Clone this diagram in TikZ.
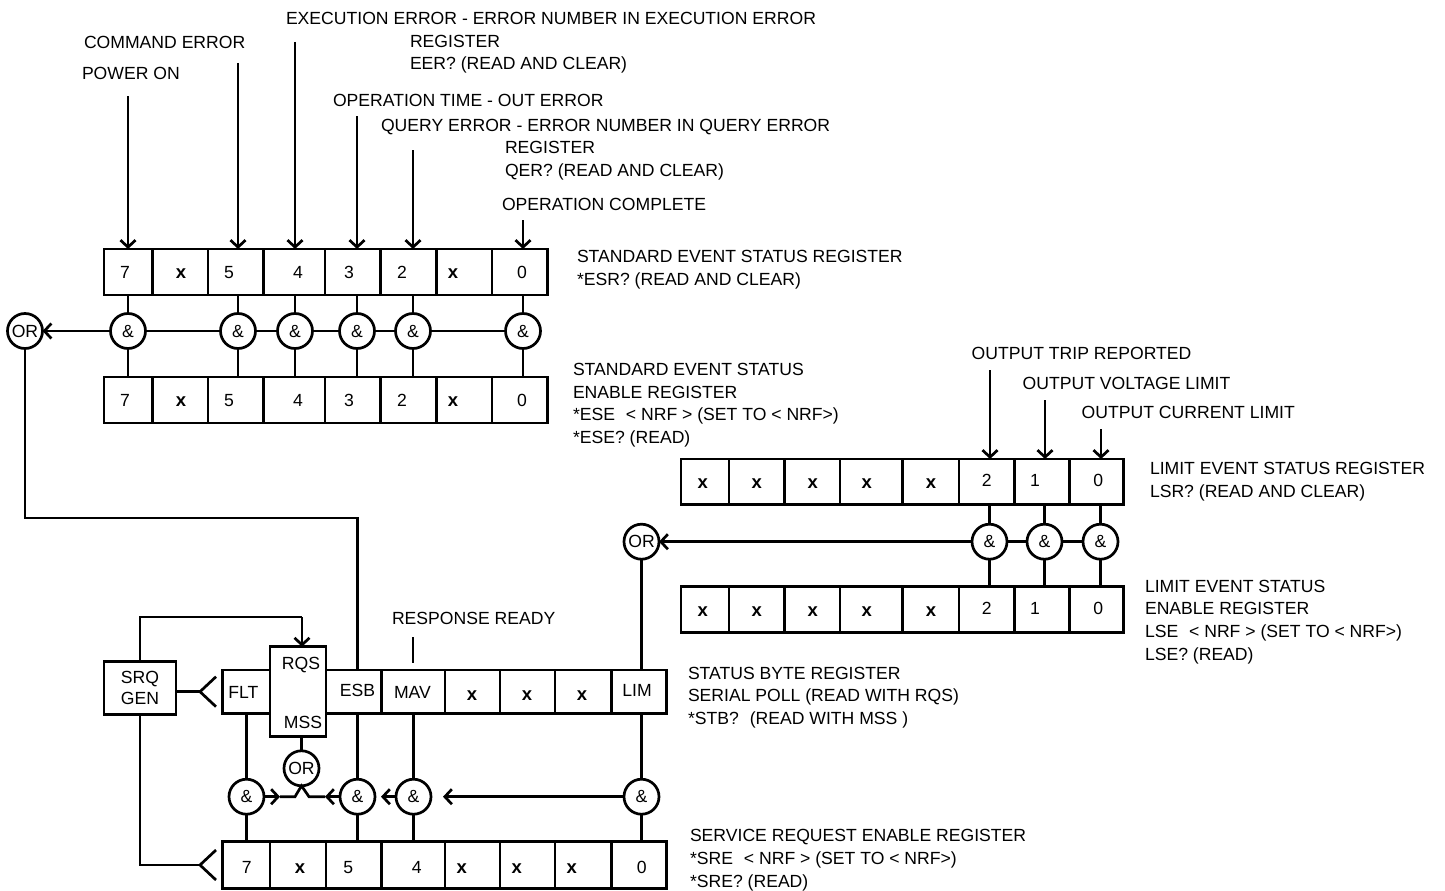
\documentclass[tikz,border=0pt]{standalone}
\usepackage{fontspec}
\setmainfont{Liberation Sans}
\usetikzlibrary{arrows.meta}
\newcommand\rc[6][]{\node[cellst,#1, minimum width={(#4-#3)*1pt}, minimum height={(#6-#5)*1pt}] (#2) at ({(#3+#4)/2},{(#5+#6)/2}) {};}
\begin{document}
\begin{tikzpicture}[x=1pt,y=-1pt, line width=2.7pt,
  every node/.style={font=\fontsize{17.6}{21}\selectfont},
  cellst/.style={draw, rectangle, inner sep=0pt, outer sep=0pt},
  gate/.style={draw, circle, minimum size=35pt, inner sep=0pt, outer sep=0pt},
  lbl/.style={anchor=base west, inner sep=0pt, outer sep=0pt},
  ct/.style={anchor=base, inner sep=0pt, outer sep=0pt},
  xb/.style={anchor=base, inner sep=0pt, outer sep=0pt, font=\fontsize{18.5}{21}\selectfont\bfseries},
  arr/.style={-{Straight Barb[length=7pt,width=15pt]}}]
\useasboundingbox (0,0) rectangle (1445,891);

% ---------- top labels ----------
\node[lbl] (l1) at (286,24.4) {EXECUTION ERROR - ERROR NUMBER IN EXECUTION ERROR};
\node[lbl] (l2) at (410,47.4) {REGISTER};
\node[lbl] (l3) at (410,69.4) {EER? (READ AND CLEAR)};
\node[lbl] (l4) at (84,48.4) {COMMAND ERROR};
\node[lbl] (l5) at (82,79.4) {POWER ON};
\node[lbl] (l6) at (333,106.4) {OPERATION TIME - OUT ERROR};
\node[lbl] (l7) at (381,131.4) {QUERY ERROR - ERROR NUMBER IN QUERY ERROR};
\node[lbl] (l8) at (505,153.4) {REGISTER};
\node[lbl] (l9) at (505,176.4) {QER? (READ AND CLEAR)};
\node[lbl] (l10) at (502,210.4) {OPERATION COMPLETE};
\node[lbl] (l11) at (577,262.4) {STANDARD EVENT STATUS REGISTER};
\node[lbl] (l12) at (577,285.4) {*ESR? (READ AND CLEAR)};
\node[lbl] (l13) at (573,375.4) {STANDARD EVENT STATUS};
\node[lbl] (l14) at (573,398.4) {ENABLE REGISTER};
\node[lbl] (l15) at (573,420.4) {*ESE\hspace{6pt} < NRF > (SET TO < NRF>)};
\node[lbl] (l16) at (573,443.4) {*ESE? (READ)};

% ---------- ESR / ESE registers ----------
\rc{e7}{104}{152.5}{249}{295}
\rc{ex6}{152.5}{208}{249}{295}
\rc{e5}{208}{263.3}{249}{295}
\rc{e4}{263.3}{325}{249}{295}
\rc{e3}{325}{380.7}{249}{295}
\rc{e2}{380.7}{436.7}{249}{295}
\rc{ex1}{436.7}{492}{249}{295}
\rc{e0}{492}{547.5}{249}{295}
\rc{n7}{104}{152.5}{377}{423}
\rc{nx6}{152.5}{208}{377}{423}
\rc{n5}{208}{263.3}{377}{423}
\rc{n4}{263.3}{325}{377}{423}
\rc{n3}{325}{380.7}{377}{423}
\rc{n2}{380.7}{436.7}{377}{423}
\rc{nx1}{436.7}{492}{377}{423}
\rc{n0}{492}{547.5}{377}{423}
\foreach \r/\y in {t/278.4, u/406.4} {
  \node[ct] (\r a) at (125,\y) {7};
  \node[xb] (\r b) at (181,\y) {x};
  \node[ct] (\r c) at (229,\y) {5};
  \node[ct] (\r d) at (298,\y) {4};
  \node[ct] (\r e) at (349,\y) {3};
  \node[ct] (\r f) at (402,\y) {2};
  \node[xb] (\r g) at (453,\y) {x};
  \node[ct] (\r h) at (522,\y) {0};
}

% input arrows
\coordinate (p7) at (128,96);
\coordinate (p5) at (238,63);
\coordinate (p4) at (295,42);
\coordinate (p3) at (357,116);
\coordinate (p2) at (413,150);
\coordinate (p0) at (523,220);
\draw[arr] (p7) -- (p7 |- e7.north);
\draw[arr] (p5) -- (p5 |- e5.north);
\draw[arr] (p4) -- (p4 |- e4.north);
\draw[arr] (p3) -- (p3 |- e3.north);
\draw[arr] (p2) -- (p2 |- e2.north);
\draw[arr] (p0) -- (p0 |- e0.north);

% gates
\node[gate] (g7) at (128,331) {\&};
\node[gate] (g5) at (238,331) {\&};
\node[gate] (g4) at (295,331) {\&};
\node[gate] (g3) at (357,331) {\&};
\node[gate] (g2) at (413,331) {\&};
\node[gate] (g0) at (523,331) {\&};
\node[gate] (orL) at (25,331) {OR};
\foreach \g/\a/\b in {g7/e7/n7, g5/e5/n5, g4/e4/n4, g3/e3/n3, g2/e2/n2, g0/e0/n0} {
  \draw (\g |- \a.south) -- (\g.north);
  \draw (\g.south) -- (\g |- \b.north);
}
\draw (g0.west) -- (g2.east);
\draw (g2.west) -- (g3.east);
\draw (g3.west) -- (g4.east);
\draw (g4.west) -- (g5.east);
\draw (g5.west) -- (g7.east);
\draw[arr] (g7.west) -- (orL.east);

% ---------- LSR / LSE ----------
\node[lbl] (m1) at (971.7,359.7) {OUTPUT TRIP REPORTED};
\node[lbl] (m2) at (1022.7,389.7) {OUTPUT VOLTAGE LIMIT};
\node[lbl] (m3) at (1081.7,418.1) {OUTPUT CURRENT LIMIT};
\node[lbl] (m4) at (1150,474.4) {LIMIT EVENT STATUS REGISTER};
\node[lbl] (m5) at (1150,497.4) {LSR? (READ AND CLEAR)};
\node[lbl] (m6) at (1145,592.4) {LIMIT EVENT STATUS};
\node[lbl] (m7) at (1145,614.4) {ENABLE REGISTER};
\node[lbl] (m8) at (1145,637.4) {LSE\hspace{6pt} < NRF > (SET TO < NRF>)};
\node[lbl] (m9) at (1145,660.4) {LSE? (READ)};

\rc{r7}{681}{729}{459}{504.3}
\rc{r6}{729}{784.3}{459}{504.3}
\rc{r5}{784.3}{840}{459}{504.3}
\rc{r4}{840}{902.7}{459}{504.3}
\rc{r3}{902.7}{959}{459}{504.3}
\rc{r2}{959}{1014.3}{459}{504.3}
\rc{r1}{1014.3}{1069.3}{459}{504.3}
\rc{r0}{1069.3}{1123.3}{459}{504.3}
\rc{s7}{681}{729}{586.7}{632.7}
\rc{s6}{729}{784.3}{586.7}{632.7}
\rc{s5}{784.3}{840}{586.7}{632.7}
\rc{s4}{840}{902.7}{586.7}{632.7}
\rc{s3}{902.7}{959}{586.7}{632.7}
\rc{s2}{959}{1014.3}{586.7}{632.7}
\rc{s1}{1014.3}{1069.3}{586.7}{632.7}
\rc{s0}{1069.3}{1123.3}{586.7}{632.7}
\foreach \r/\y in {v/488.0, w/616.0} {
  \node[xb] (\r a) at (702.7,\y) {x};
  \node[xb] (\r b) at (756.7,\y) {x};
  \node[xb] (\r c) at (812.7,\y) {x};
  \node[xb] (\r d) at (866.7,\y) {x};
  \node[xb] (\r e) at (931,\y) {x};
  \node[ct] (\r f) at (986.7,\y-1.5) {2};
  \node[ct] (\r g) at (1035,\y-1.5) {1};
  \node[ct] (\r h) at (1098.3,\y-1.5) {0};
}
\coordinate (q2) at (990,370);
\coordinate (q1) at (1045,400);
\coordinate (q0) at (1101,429);
\draw[arr] (q2) -- (q2 |- r2.north);
\draw[arr] (q1) -- (q1 |- r1.north);
\draw[arr] (q0) -- (q0 |- r0.north);
\node[gate] (h2) at (989.5,541.7) {\&};
\node[gate] (h1) at (1044.5,541.7) {\&};
\node[gate] (h0) at (1100.5,541.7) {\&};
\node[gate] (orR) at (641.5,541.7) {OR};
\foreach \g/\a/\b in {h2/r2/s2, h1/r1/s1, h0/r0/s0} {
  \draw (\g |- \a.south) -- (\g.north);
  \draw (\g.south) -- (\g |- \b.north);
}
\draw (h0.west) -- (h1.east);
\draw (h1.west) -- (h2.east);
\draw[arr] (h2.west) -- (orR.east);

% ---------- status byte ----------
\node[lbl] (k1) at (392,624.4) {RESPONSE READY};
\node[lbl] (k2) at (688,679.4) {STATUS BYTE REGISTER};
\node[lbl] (k3) at (688,701.4) {SERIAL POLL (READ WITH RQS)};
\node[lbl] (k4) at (688,724.4) {*STB?\hspace{6pt} (READ WITH MSS )};
\node[lbl] (k5) at (690,841.4) {SERVICE REQUEST ENABLE REGISTER};
\node[lbl] (k6) at (690,864.4) {*SRE\hspace{6pt} < NRF > (SET TO < NRF>)};
\node[lbl] (k7) at (690,887.4) {*SRE? (READ)};

\rc{flt}{222.3}{270}{670}{713.3}
\rc{esb}{326}{381.7}{670}{713.3}
\rc{mav}{381.7}{445}{670}{713.3}
\rc{bx3}{445}{500}{670}{713.3}
\rc{bx2}{500}{555}{670}{713.3}
\rc{bx1}{555}{611.7}{670}{713.3}
\rc{lim}{611.7}{666.7}{670}{713.3}
\rc{rqs}{270}{326}{646.7}{736.7}
\node[ct] (tflt) at (243.3,698) {FLT};
\node[ct] (tesb) at (357.5,696.5) {ESB};
\node[ct] (tmav) at (412.5,698) {MAV};
\node[xb] (tbx3) at (472,700) {x};
\node[xb] (tbx2) at (527,700) {x};
\node[xb] (tbx1) at (582,700) {x};
\node[ct] (tlim) at (637,696.5) {LIM};
\node[ct] (trqs) at (301,669) {RQS};
\node[ct] (tmss) at (303,728) {MSS};

\rc{c7}{222.3}{270}{841.7}{888.3}
\rc{c6}{270}{326}{841.7}{888.3}
\rc{c5}{326}{381.7}{841.7}{888.3}
\rc{c4}{381.7}{445}{841.7}{888.3}
\rc{c3}{445}{500}{841.7}{888.3}
\rc{c2}{500}{555}{841.7}{888.3}
\rc{c1}{555}{611.7}{841.7}{888.3}
\rc{c0}{611.7}{666.7}{841.7}{888.3}
\node[ct] (tc7) at (246.7,873) {7};
\node[xb] (tc6) at (300,873) {x};
\node[ct] (tc5) at (348.3,873) {5};
\node[ct] (tc4) at (416.7,873) {4};
\node[xb] (tc3) at (461.7,873) {x};
\node[xb] (tc2) at (516.7,873) {x};
\node[xb] (tc1) at (571.7,873) {x};
\node[ct] (tc0) at (641.7,873) {0};

% SRQ generator
\node[cellst, minimum width=72pt, minimum height=53pt, align=center] (srq) at (140,688.3) {SRQ\\GEN};
\coordinate (s1) at (140,617);
\coordinate (s2) at (302,617);
\draw (srq.north) -- (s1) -- (s2);
\draw[arr] (s2) -- (s2 |- rqs.north);
\coordinate (f1) at (200,691.7);
\coordinate (fu1) at (216,676.7);
\coordinate (fd1) at (216,706.7);
\draw (srq.east |- f1) -- (f1);
\draw (fu1) -- (f1) -- (fd1);
\coordinate (f2) at (200,865);
\coordinate (fu2) at (216,850);
\coordinate (fd2) at (216,880);
\draw (srq.south) |- (f2);
\draw (fu2) -- (f2) -- (fd2);

% response ready tick
\coordinate (rr1) at (413,637);
\coordinate (rr2) at (413,663);
\draw (rr1) -- (rr2);

% ESB feed from left OR
\coordinate (k0) at (357.5,518);
\draw (orL.south) |- (k0) -- (k0 |- esb.north);
% LIM feed from right OR
\draw (orR.south) -- (orR.south |- lim.north);

% bottom gates
\node[gate] (fltg) at (246.5,796.7) {\&};
\node[gate] (esbg) at (357.5,796.7) {\&};
\node[gate] (mavg) at (413.5,796.7) {\&};
\node[gate] (limg) at (641.5,796.7) {\&};
\node[gate] (orM) at (301.5,768.3) {OR};
\foreach \g/\a/\b in {fltg/flt/c7, esbg/esb/c5, mavg/mav/c4, limg/lim/c0} {
  \draw (\g |- \a.south) -- (\g.north);
  \draw (\g.south) -- (\g |- \b.north);
}
\draw (orM.north) -- (orM.north |- rqs.south);
\coordinate (vL) at (295,796.7);
\coordinate (vR) at (309,796.7);
\coordinate (aL) at (280,796.7);
\coordinate (aR) at (325,796.7);
\draw[arr] (fltg.east) -- (aL);
\draw (aL) -- (vL) -- (orM.south) -- (vR) -- (aR);
\draw[arr] (esbg.west) -- (aR);
\draw[arr, shorten >=6pt] (mavg.west) -- (esbg.east);
\draw[arr, shorten >=12pt] (limg.west) -- (mavg.east);
\end{tikzpicture}
\end{document}
